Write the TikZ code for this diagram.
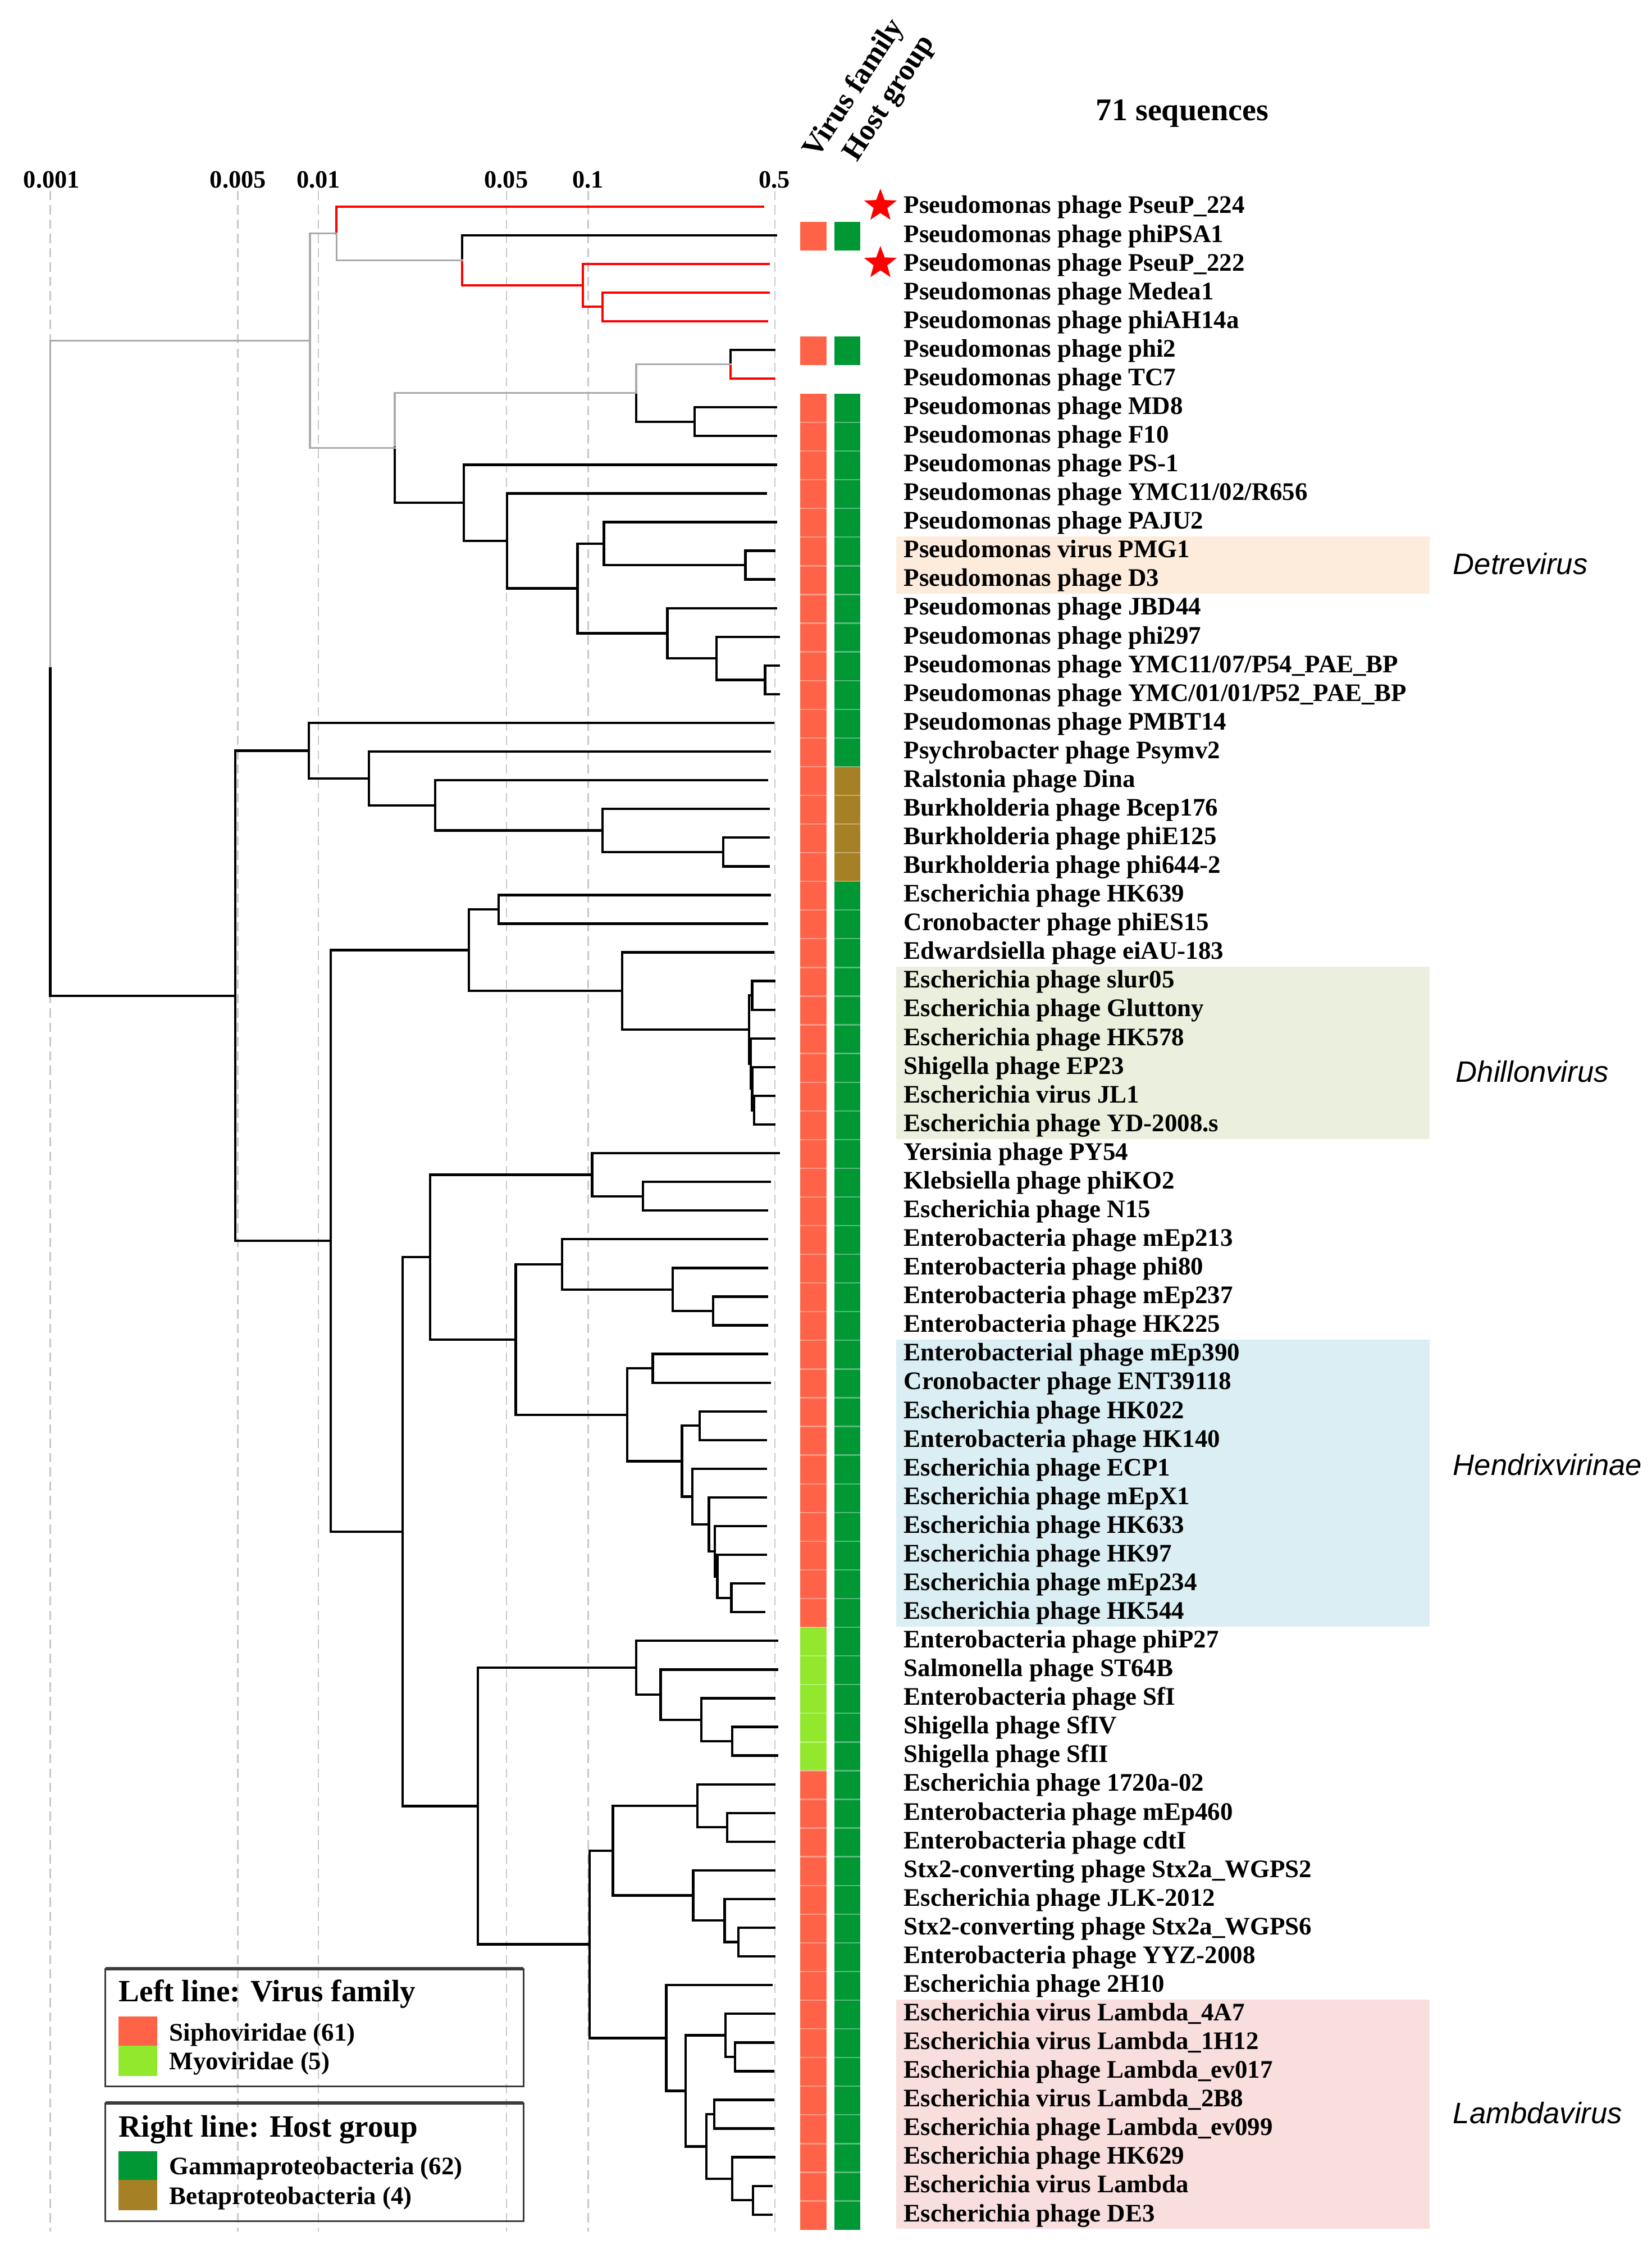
\documentclass[tikz,border=0pt]{standalone}
\usepackage{fontspec}
\setmainfont{Liberation Serif}
\newfontfamily\gsans{Liberation Sans}
\usetikzlibrary{shapes.geometric}
\definecolor{sipho}{RGB}{255,99,71}
\definecolor{myo}{RGB}{145,232,45}
\definecolor{hostg}{RGB}{0,152,52}
\definecolor{hostb}{RGB}{166,128,36}
\definecolor{detre}{RGB}{253,236,220}
\definecolor{dhill}{RGB}{235,240,222}
\definecolor{hendr}{RGB}{218,238,243}
\definecolor{lamb}{RGB}{249,222,222}
\definecolor{tgrayc}{RGB}{170,170,170}
\definecolor{dashc}{RGB}{200,200,200}
\definecolor{legc}{RGB}{60,60,60}
\newcommand\brk[4][tblack]{\draw[#1] (#3) -| (#2) |- (#4);}
\newcommand\lf[2]{\node[lab] (t#1) at (630,{124+20*#1}) {#2};}
\newcommand\lc[2]{\coordinate (L#1) at (#2,{124+20*#1});}
\begin{document}
\begin{tikzpicture}[x=0.5pt,y=-0.5pt,
 tblack/.style={line width=0.85pt, black, line cap=rect},
 tred/.style={line width=0.78pt, red, line cap=rect},
 tgray/.style={line width=0.65pt, tgrayc, line cap=rect},
 dashl/.style={line width=0.45pt, dashc, dash pattern=on 3.2pt off 1.8pt},
 lab/.style={anchor=base west, yshift=-2.4pt, inner sep=0pt, font=\fontsize{8.8}{10}\selectfont\bfseries},
 scl/.style={anchor=base, inner sep=0pt, font=\fontsize{8.7}{10}\selectfont\bfseries},
 hdr/.style={inner sep=0pt, rotate=57, font=\fontsize{10.4}{12}\selectfont\bfseries},
 genus/.style={anchor=west, inner sep=0pt, font=\gsans\itshape\fontsize{10.3}{12}\selectfont},
 legtitle/.style={anchor=base west, inner sep=0pt, font=\fontsize{10.8}{12}\selectfont\bfseries},
 legitem/.style={anchor=base west, inner sep=0pt, font=\fontsize{8.8}{10}\selectfont\bfseries},
 legbox/.style={line width=0.6pt, legc},
 sepl/.style={line width=0.45pt, white, opacity=0.35},
 starmark/.style={star, star points=5, star point ratio=2.4, fill=red, draw=none, minimum size=12pt, inner sep=0pt}
]
\fill[white] (0,0) rectangle (1152,1568);
\useasboundingbox (0,0) rectangle (1152,1568);

% highlight boxes
\fill[detre] (625,374) rectangle (997,414);
\fill[dhill] (625,674) rectangle (997,794);
\fill[hendr] (625,934) rectangle (997,1134);
\fill[lamb] (625,1394) rectangle (997,1554);

% scale
\foreach \xx in {35.1,165.9,222.1,353.3,410.2,540.3} \draw[dashl] (\xx,133) -- (\xx,1556);
\node[scl] (s1) at (36,131) {0.001};
\node[scl] (s2) at (166,131) {0.005};
\node[scl] (s3) at (222,131) {0.01};
\node[scl] (s4) at (353,131) {0.05};
\node[scl] (s5) at (410,131) {0.1};
\node[scl] (s6) at (540,131) {0.5};

% leaf end points
\lc{1}{532}\lc{2}{541}\lc{3}{536}\lc{4}{536}\lc{5}{535}\lc{6}{540}\lc{7}{540}
\lc{8}{541}\lc{9}{541}\lc{10}{541}\lc{11}{534}\lc{12}{541}\lc{13}{540}\lc{14}{540}
\lc{15}{541}\lc{16}{543}\lc{17}{543}\lc{18}{543}\lc{19}{539}\lc{20}{537}\lc{21}{535}
\lc{22}{536}\lc{23}{536}\lc{24}{536}\lc{25}{537}\lc{26}{535}\lc{27}{539}\lc{28}{540}
\lc{29}{540}\lc{30}{540}\lc{31}{540}\lc{32}{540}\lc{33}{540}\lc{34}{543}\lc{35}{537}
\lc{36}{535}\lc{37}{535}\lc{38}{535}\lc{39}{535}\lc{40}{535}\lc{41}{535}\lc{42}{537}
\lc{43}{534}\lc{44}{534}\lc{45}{534}\lc{46}{534}\lc{47}{534}\lc{48}{534}\lc{49}{533}
\lc{50}{533}\lc{51}{542}\lc{52}{542}\lc{53}{540}\lc{54}{542}\lc{55}{542}\lc{56}{540}
\lc{57}{540}\lc{58}{540}\lc{59}{540}\lc{60}{540}\lc{61}{540}\lc{62}{540}\lc{63}{538}
\lc{64}{540}\lc{65}{539}\lc{66}{539}\lc{67}{539}\lc{68}{539}\lc{69}{540}\lc{70}{538}
\lc{71}{538}

% internal nodes
\coordinate (N420) at (420.2,214);
\coordinate (N406) at (406.4,199);
\coordinate (N322) at (322.4,181.5);
\coordinate (N235) at (234.7,162.75);
\coordinate (N510) at (509.6,254);
\coordinate (N484) at (484.3,294);
\coordinate (N444) at (443.7,274);
\coordinate (N520) at (519.8,394);
\coordinate (N421) at (421.2,379);
\coordinate (N534) at (533.5,474);
\coordinate (N500) at (499.8,459);
\coordinate (N465) at (465.4,441.5);
\coordinate (N403) at (402.8,410.25);
\coordinate (N354) at (353.5,377.1);
\coordinate (N323) at (323.4,350.6);
\coordinate (N275) at (275.3,312.3);
\coordinate (N216) at (216.2,237.5);
\coordinate (N505) at (504.5,594);
\coordinate (N420b) at (420.2,579);
\coordinate (N304) at (303.5,561.5);
\coordinate (N257) at (257.2,542.75);
\coordinate (N216b) at (215.5,523.4);
\coordinate (N348) at (347.7,634);
\coordinate (DF) at (526,774);
\coordinate (DE) at (524.5,759);
\coordinate (DD) at (523.5,741.5);
\coordinate (DA) at (524.5,694);
\coordinate (DB) at (522.3,717.75);
\coordinate (N434) at (433.9,690.9);
\coordinate (N327) at (327.1,662.4);
\coordinate (N448) at (448.4,834);
\coordinate (N413) at (412.9,819);
\coordinate (N497) at (497.3,914);
\coordinate (N469) at (469.1,899);
\coordinate (N392) at (391.9,881.5);
\coordinate (N455) at (455.3,954);
\coordinate (N488) at (487.9,994);
\coordinate (N510b) at (510,1114);
\coordinate (HG) at (500.3,1099);
\coordinate (HH) at (498.6,1081.5);
\coordinate (N494) at (494.4,1062.8);
\coordinate (N483) at (482.8,1043.4);
\coordinate (N476) at (475.6,1018.7);
\coordinate (N438) at (437.5,986.4);
\coordinate (N360) at (359.7,934);
\coordinate (N300) at (299.9,876.5);
\coordinate (N511) at (510.7,1214);
\coordinate (N489) at (489,1199);
\coordinate (N461) at (460.7,1181.5);
\coordinate (N444b) at (443.7,1162.75);
\coordinate (N507) at (507.1,1274);
\coordinate (N486) at (486.4,1259);
\coordinate (N515) at (515,1354);
\coordinate (N505b) at (505.3,1339);
\coordinate (N484b) at (483.5,1321.5);
\coordinate (N427) at (427.4,1290.25);
\coordinate (N513) at (512.5,1434);
\coordinate (N506) at (506,1419);
\coordinate (N498) at (498,1474);
\coordinate (N525) at (525.2,1534);
\coordinate (N511c) at (510.7,1519);
\coordinate (N493) at (492.6,1496.5);
\coordinate (N478) at (478.1,1457.75);
\coordinate (N465b) at (464.7,1420.9);
\coordinate (N411) at (411.1,1355.6);
\coordinate (N333) at (333.2,1259.2);
\coordinate (N281) at (280.7,1067.8);
\coordinate (N231) at (230.7,865.1);
\coordinate (N164) at (164.1,694.2);
\coordinate (Root) at (35.1,465.9);

% upper clade
\brk[tred]{N420}{L4}{L5}
\brk[tred]{N406}{L3}{N420}
\draw[tblack] (L2) -| (N322); \draw[tred] (N322) |- (N406);
\draw[tred] (L1) -| (N235); \draw[tgray] (N235) |- (N322);
\draw[tblack] (L6) -| (N510); \draw[tred] (N510) |- (L7);
\brk{N484}{L8}{L9}
\draw[tgray] (N510) -| (N444); \draw[tblack] (N444) |- (N484);
\brk{N520}{L13}{L14}
\brk{N421}{L12}{N520}
\brk{N534}{L17}{L18}
\brk{N500}{L16}{N534}
\brk{N465}{L15}{N500}
\brk{N403}{N421}{N465}
\brk{N354}{L11}{N403}
\brk{N323}{L10}{N354}
\draw[tgray] (N444) -| (N275); \draw[tblack] (N275) |- (N323);
\brk[tgray]{N216}{N235}{N275}
% lower clade
\brk{N505}{L23}{L24}
\brk{N420b}{L22}{N505}
\brk{N304}{L21}{N420b}
\brk{N257}{L20}{N304}
\brk{N216b}{L19}{N257}
\brk{N348}{L25}{L26}
\brk{DA}{L28}{L29}
\brk{DF}{L32}{L33}
\brk{DE}{L31}{DF}
\brk{DD}{L30}{DE}
\brk{DB}{DA}{DD}
\brk{N434}{L27}{DB}
\brk{N327}{N348}{N434}
\brk{N448}{L35}{L36}
\brk{N413}{L34}{N448}
\brk{N497}{L39}{L40}
\brk{N469}{L38}{N497}
\brk{N392}{L37}{N469}
\brk{N455}{L41}{L42}
\brk{N488}{L43}{L44}
\brk{N510b}{L49}{L50}
\brk{HG}{L48}{N510b}
\brk{HH}{L47}{HG}
\brk{N494}{L46}{HH}
\brk{N483}{L45}{N494}
\brk{N476}{N488}{N483}
\brk{N438}{N455}{N476}
\brk{N360}{N392}{N438}
\brk{N300}{N413}{N360}
\brk{N511}{L54}{L55}
\brk{N489}{L53}{N511}
\brk{N461}{L52}{N489}
\brk{N444b}{L51}{N461}
\brk{N507}{L57}{L58}
\brk{N486}{L56}{N507}
\brk{N515}{L61}{L62}
\brk{N505b}{L60}{N515}
\brk{N484b}{L59}{N505b}
\brk{N427}{N486}{N484b}
\brk{N513}{L65}{L66}
\brk{N506}{L64}{N513}
\brk{N498}{L67}{L68}
\brk{N525}{L70}{L71}
\brk{N511c}{L69}{N525}
\brk{N493}{N498}{N511c}
\brk{N478}{N506}{N493}
\brk{N465b}{L63}{N478}
\brk{N411}{N427}{N465b}
\brk{N333}{N444b}{N411}
\brk{N281}{N300}{N333}
\brk{N231}{N327}{N281}
\brk{N164}{N216b}{N231}
\draw[tgray] (N216) -| (Root); \draw[tblack] (Root) |- (N164);

% colour strips
\fill[sipho] (558.1,154.5) rectangle (576.5,174.5);
\fill[hostg] (582.1,154.5) rectangle (600.1,174.5);
\fill[sipho] (558.1,234.5) rectangle (576.5,254.5);
\fill[hostg] (582.1,234.5) rectangle (600.1,254.5);
\fill[sipho] (558.1,274.5) rectangle (576.5,1134.5);
\fill[myo] (558.1,1134.5) rectangle (576.5,1234.5);
\fill[sipho] (558.1,1234.5) rectangle (576.5,1554.5);
\fill[hostg] (582.1,274.5) rectangle (600.1,534.5);
\fill[hostb] (582.1,534.5) rectangle (600.1,614.5);
\fill[hostg] (582.1,614.5) rectangle (600.1,1554.5);
\foreach \i in {9,...,71} {
  \draw[sepl] (558.1,{114.5+20*\i}) -- (576.5,{114.5+20*\i});
  \draw[sepl] (582.1,{114.5+20*\i}) -- (600.1,{114.5+20*\i});
}

% stars
\node[starmark] (st1) at (614,143.5) {};
\node[starmark] (st3) at (614,183.5) {};

% labels
\lf{1}{Pseudomonas phage PseuP\_224}
\lf{2}{Pseudomonas phage phiPSA1}
\lf{3}{Pseudomonas phage PseuP\_222}
\lf{4}{Pseudomonas phage Medea1}
\lf{5}{Pseudomonas phage phiAH14a}
\lf{6}{Pseudomonas phage phi2}
\lf{7}{Pseudomonas phage TC7}
\lf{8}{Pseudomonas phage MD8}
\lf{9}{Pseudomonas phage F10}
\lf{10}{Pseudomonas phage PS-1}
\lf{11}{Pseudomonas phage YMC11/02/R656}
\lf{12}{Pseudomonas phage PAJU2}
\lf{13}{Pseudomonas virus PMG1}
\lf{14}{Pseudomonas phage D3}
\lf{15}{Pseudomonas phage JBD44}
\lf{16}{Pseudomonas phage phi297}
\lf{17}{Pseudomonas phage YMC11/07/P54\_PAE\_BP}
\lf{18}{Pseudomonas phage YMC/01/01/P52\_PAE\_BP}
\lf{19}{Pseudomonas phage PMBT14}
\lf{20}{Psychrobacter phage Psymv2}
\lf{21}{Ralstonia phage Dina}
\lf{22}{Burkholderia phage Bcep176}
\lf{23}{Burkholderia phage phiE125}
\lf{24}{Burkholderia phage phi644-2}
\lf{25}{Escherichia phage HK639}
\lf{26}{Cronobacter phage phiES15}
\lf{27}{Edwardsiella phage eiAU-183}
\lf{28}{Escherichia phage slur05}
\lf{29}{Escherichia phage Gluttony}
\lf{30}{Escherichia phage HK578}
\lf{31}{Shigella phage EP23}
\lf{32}{Escherichia virus JL1}
\lf{33}{Escherichia phage YD-2008.s}
\lf{34}{Yersinia phage PY54}
\lf{35}{Klebsiella phage phiKO2}
\lf{36}{Escherichia phage N15}
\lf{37}{Enterobacteria phage mEp213}
\lf{38}{Enterobacteria phage phi80}
\lf{39}{Enterobacteria phage mEp237}
\lf{40}{Enterobacteria phage HK225}
\lf{41}{Enterobacterial phage mEp390}
\lf{42}{Cronobacter phage ENT39118}
\lf{43}{Escherichia phage HK022}
\lf{44}{Enterobacteria phage HK140}
\lf{45}{Escherichia phage ECP1}
\lf{46}{Escherichia phage mEpX1}
\lf{47}{Escherichia phage HK633}
\lf{48}{Escherichia phage HK97}
\lf{49}{Escherichia phage mEp234}
\lf{50}{Escherichia phage HK544}
\lf{51}{Enterobacteria phage phiP27}
\lf{52}{Salmonella phage ST64B}
\lf{53}{Enterobacteria phage SfI}
\lf{54}{Shigella phage SfIV}
\lf{55}{Shigella phage SfII}
\lf{56}{Escherichia phage 1720a-02}
\lf{57}{Enterobacteria phage mEp460}
\lf{58}{Enterobacteria phage cdtI}
\lf{59}{Stx2-converting phage Stx2a\_WGPS2}
\lf{60}{Escherichia phage JLK-2012}
\lf{61}{Stx2-converting phage Stx2a\_WGPS6}
\lf{62}{Enterobacteria phage YYZ-2008}
\lf{63}{Escherichia phage 2H10}
\lf{64}{Escherichia virus Lambda\_4A7}
\lf{65}{Escherichia virus Lambda\_1H12}
\lf{66}{Escherichia phage Lambda\_ev017}
\lf{67}{Escherichia virus Lambda\_2B8}
\lf{68}{Escherichia phage Lambda\_ev099}
\lf{69}{Escherichia phage HK629}
\lf{70}{Escherichia virus Lambda}
\lf{71}{Escherichia phage DE3}

% genus labels
\node[genus] (g1) at (1013,393) {Detrevirus};
\node[genus] (g2) at (1015,747) {Dhillonvirus};
\node[genus] (g3) at (1013,1021) {Hendrixvirinae};
\node[genus] (g4) at (1013,1473) {Lambdavirus};

% headers
\node[hdr] (hv) at (596,62) {Virus family};
\node[hdr] (hh) at (621,69) {Host group};
\node[anchor=base west, inner sep=0pt, font=\fontsize{11}{13}\selectfont\bfseries] (nseq) at (764,84) {71 sequences};

% legend
\draw[legbox] (73.5,1372.6) rectangle (365,1454.6);
\draw[line width=1.2pt, legc] (73.5,1372.6) -- (365,1372.6);
\node[legtitle] (lt1) at (82.6,1395.5) {Left line: Virus family};
\fill[sipho] (82.6,1405.7) rectangle (109.7,1426.4);
\fill[myo] (82.6,1426.4) rectangle (109.7,1447.3);
\node[legitem] (li1) at (117.7,1422.9) {Siphoviridae (61)};
\node[legitem] (li2) at (117.7,1442.7) {Myoviridae (5)};
\draw[legbox] (73.5,1466.3) rectangle (365,1548.6);
\draw[line width=1.2pt, legc] (73.5,1466.3) -- (365,1466.3);
\node[legtitle] (lt2) at (82.6,1489.7) {Right line: Host group};
\fill[hostg] (82.6,1500) rectangle (109.7,1520);
\fill[hostb] (82.6,1520) rectangle (109.7,1541);
\node[legitem] (li3) at (117.7,1516.2) {Gammaproteobacteria (62)};
\node[legitem] (li4) at (117.7,1536.7) {Betaproteobacteria (4)};
\end{tikzpicture}
\end{document}
